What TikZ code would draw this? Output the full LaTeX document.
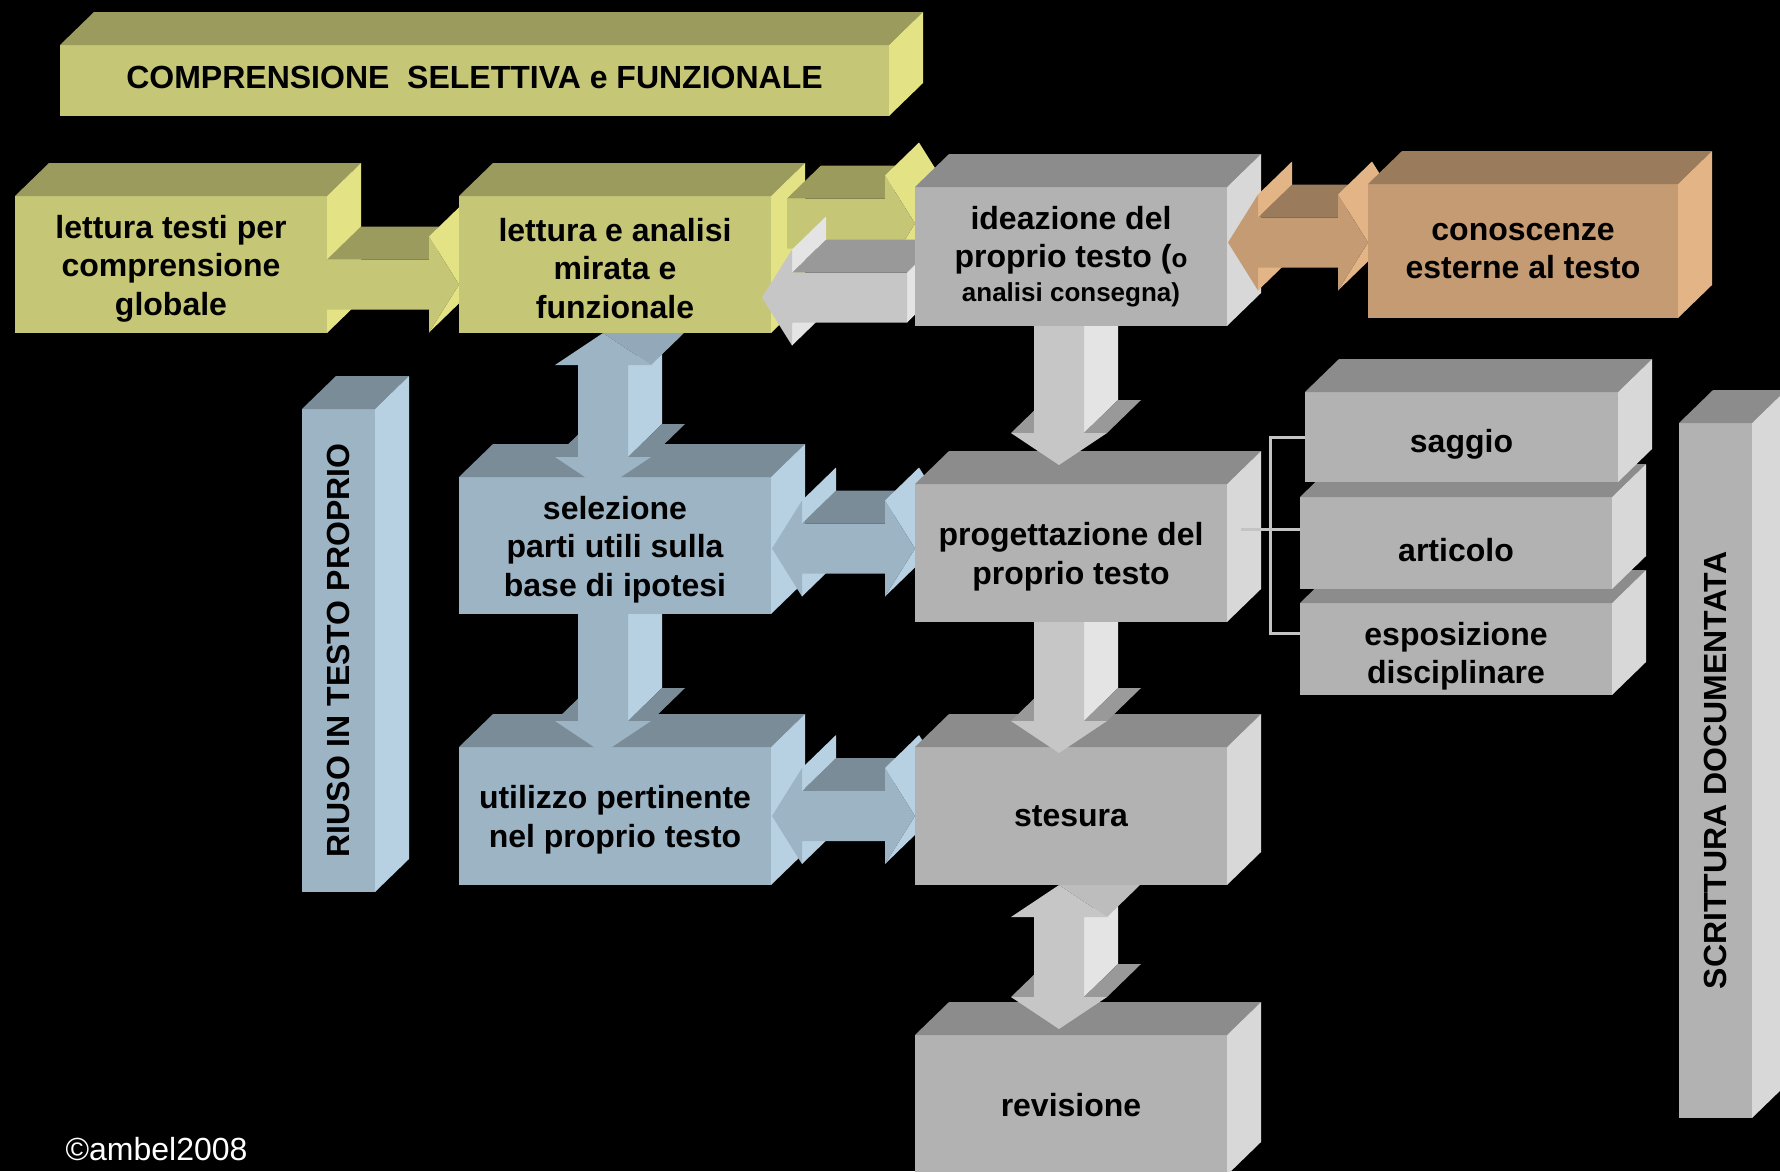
\documentclass[tikz,border=0pt]{standalone}
\usepackage{fontspec}
\setmainfont{Liberation Sans}
\usetikzlibrary{calc}

\definecolor{yelfront}{HTML}{C6C677}
\definecolor{yeltop}{HTML}{9B9B5D}
\definecolor{yelside}{HTML}{E3E385}
\definecolor{yelmid}{HTML}{B4B46B}
\definecolor{grayfront}{HTML}{B2B2B2}
\definecolor{graytop}{HTML}{8C8C8C}
\definecolor{grayside}{HTML}{D8D8D8}
\definecolor{graymid}{HTML}{A5A5A5}
\definecolor{lgrayfront}{HTML}{C6C6C6}
\definecolor{lgraytop}{HTML}{999999}
\definecolor{lgrayside}{HTML}{E4E4E4}
\definecolor{lgraymid}{HTML}{BDBDBD}
\definecolor{bluefront}{HTML}{9DB4C5}
\definecolor{bluetop}{HTML}{7B8C99}
\definecolor{blueside}{HTML}{B7D1E3}
\definecolor{bluemid}{HTML}{93A9B9}
\definecolor{orafront}{HTML}{C49B73}
\definecolor{oratop}{HTML}{9A7B5C}
\definecolor{oraside}{HTML}{E3B586}
\definecolor{oramid}{HTML}{B58F6B}
\definecolor{brack}{HTML}{C4C4C4}

\pgfdeclarelayer{shade}
\pgfsetlayers{shade,main}

\newcommand{\boxfont}{\bfseries\fontsize{32}{38.6}\selectfont}
\newcommand{\smallfont}{\fontsize{26}{30}\selectfont}
\newcommand{\drop}{\rule{0pt}{31pt}}

% depth of the blocks and size of the block arrows
\def\depx{34pt}
\def\depy{33pt}
\def\shaft{25pt}
\def\headw{48pt}
\def\headl{30pt}
\def\headv{32pt}

% front, top and right face of a box
\newcommand{\boxfaces}[2]{%
  \fill[#2front] (#1.south west) rectangle (#1.north east);
  \fill[#2top] (#1.north west) -- ($(#1.north west)+(\depx,\depy)$) -- ($(#1.north east)+(\depx,\depy)$) -- (#1.north east) -- cycle;
  \fill[#2side] (#1.north east) -- ($(#1.north east)+(\depx,\depy)$) -- ($(#1.south east)+(\depx,\depy)$) -- (#1.south east) -- cycle;}

% block arrow to the right: #1 start, #2 tip
\newcommand{\blockright}[3]{%
  \fill[#3top] ($(#1)+(0pt,\shaft)$) -- ($(#2)+(-\headl,\shaft)$) -- ($(#2)+(-\headl+\depx,\shaft+\depy)$) -- ($(#1)+(\depx,\shaft+\depy)$) -- cycle;
  \fill[#3side] ($(#2)+(-\headl,\headw)$) -- (#2) -- ($(#2)+(\depx,\depy)$) -- ($(#2)+(-\headl+\depx,\headw+\depy)$) -- cycle;
  \fill[#3side] (#2) -- ($(#2)+(-\headl,-\headw)$) -- ($(#2)+(-\headl+\depx,-\headw+\depy)$) -- ($(#2)+(\depx,\depy)$) -- cycle;
  \fill[#3front] ($(#1)+(0pt,\shaft)$) -- ($(#2)+(-\headl,\shaft)$) -- ($(#2)+(-\headl,\headw)$) -- (#2) -- ($(#2)+(-\headl,-\headw)$) -- ($(#2)+(-\headl,-\shaft)$) -- ($(#1)+(0pt,-\shaft)$) -- cycle;}

% block arrow to the left: #1 start, #2 tip
\newcommand{\blockleft}[3]{%
  \fill[#3top] ($(#2)+(\headl,\shaft)$) -- ($(#1)+(0pt,\shaft)$) -- ($(#1)+(\depx,\shaft+\depy)$) -- ($(#2)+(\headl+\depx,\shaft+\depy)$) -- cycle;
  \fill[#3side] ($(#1)+(0pt,-\shaft)$) -- ($(#1)+(0pt,\shaft)$) -- ($(#1)+(\depx,\shaft+\depy)$) -- ($(#1)+(\depx,-\shaft+\depy)$) -- cycle;
  \fill[#3side] ($(#2)+(\headl,\shaft)$) -- ($(#2)+(\headl,\headw)$) -- ($(#2)+(\headl+\depx,\headw+\depy)$) -- ($(#2)+(\headl+\depx,\shaft+\depy)$) -- cycle;
  \fill[#3side] ($(#2)+(\headl,-\headw)$) -- ($(#2)+(\headl,-\shaft)$) -- ($(#2)+(\headl+\depx,-\shaft+\depy)$) -- ($(#2)+(\headl+\depx,-\headw+\depy)$) -- cycle;
  \fill[#3front] ($(#1)+(0pt,\shaft)$) -- ($(#2)+(\headl,\shaft)$) -- ($(#2)+(\headl,\headw)$) -- (#2) -- ($(#2)+(\headl,-\headw)$) -- ($(#2)+(\headl,-\shaft)$) -- ($(#1)+(0pt,-\shaft)$) -- cycle;}

% block arrow with two heads: #1 left tip, #2 right tip
\newcommand{\blockboth}[3]{%
  \fill[#3top] ($(#1)+(\headl,\shaft)$) -- ($(#2)+(-\headl,\shaft)$) -- ($(#2)+(-\headl+\depx,\shaft+\depy)$) -- ($(#1)+(\headl+\depx,\shaft+\depy)$) -- cycle;
  \fill[#3side] ($(#1)+(\headl,\shaft)$) -- ($(#1)+(\headl,\headw)$) -- ($(#1)+(\headl+\depx,\headw+\depy)$) -- ($(#1)+(\headl+\depx,\shaft+\depy)$) -- cycle;
  \fill[#3side] ($(#1)+(\headl,-\headw)$) -- ($(#1)+(\headl,-\shaft)$) -- ($(#1)+(\headl+\depx,-\shaft+\depy)$) -- ($(#1)+(\headl+\depx,-\headw+\depy)$) -- cycle;
  \fill[#3side] ($(#2)+(-\headl,\headw)$) -- (#2) -- ($(#2)+(\depx,\depy)$) -- ($(#2)+(-\headl+\depx,\headw+\depy)$) -- cycle;
  \fill[#3side] (#2) -- ($(#2)+(-\headl,-\headw)$) -- ($(#2)+(-\headl+\depx,-\headw+\depy)$) -- ($(#2)+(\depx,\depy)$) -- cycle;
  \fill[#3front] (#1) -- ($(#1)+(\headl,\headw)$) -- ($(#1)+(\headl,\shaft)$) -- ($(#2)+(-\headl,\shaft)$) -- ($(#2)+(-\headl,\headw)$) -- (#2) -- ($(#2)+(-\headl,-\headw)$) -- ($(#2)+(-\headl,-\shaft)$) -- ($(#1)+(\headl,-\shaft)$) -- ($(#1)+(\headl,-\headw)$) -- cycle;}

% block arrow down: #1 start, #2 tip
\newcommand{\blockdown}[3]{%
  \fill[#3top] ($(#2)+(-\headw,\headv)$) -- ($(#2)+(-\shaft,\headv)$) -- ($(#2)+(-\shaft+\depx,\headv+\depy)$) -- ($(#2)+(-\headw+\depx,\headv+\depy)$) -- cycle;
  \fill[#3side] ($(#1)+(\shaft,0pt)$) -- ($(#2)+(\shaft,\headv)$) -- ($(#2)+(\shaft+\depx,\headv+\depy)$) -- ($(#1)+(\shaft+\depx,\depy)$) -- cycle;
  \fill[#3top] ($(#2)+(\shaft,\headv)$) -- ($(#2)+(\headw,\headv)$) -- ($(#2)+(\headw+\depx,\headv+\depy)$) -- ($(#2)+(\shaft+\depx,\headv+\depy)$) -- cycle;
  \fill[#3front] ($(#1)+(-\shaft,0pt)$) -- ($(#1)+(\shaft,0pt)$) -- ($(#2)+(\shaft,\headv)$) -- ($(#2)+(\headw,\headv)$) -- (#2) -- ($(#2)+(-\headw,\headv)$) -- ($(#2)+(-\shaft,\headv)$) -- cycle;}

% block arrow up and down: #1 upper tip, #2 lower tip
\newcommand{\blockupdown}[3]{%
  \fill[#3side] ($(#1)+(\shaft,-\headv)$) -- ($(#2)+(\shaft,\headv)$) -- ($(#2)+(\shaft+\depx,\headv+\depy)$) -- ($(#1)+(\shaft+\depx,-\headv+\depy)$) -- cycle;
  \fill[#3mid] (#1) -- ($(#1)+(\headw,-\headv)$) -- ($(#1)+(\headw+\depx,-\headv+\depy)$) -- ($(#1)+(\depx,\depy)$) -- cycle;
  \fill[#3top] ($(#2)+(-\headw,\headv)$) -- ($(#2)+(-\shaft,\headv)$) -- ($(#2)+(-\shaft+\depx,\headv+\depy)$) -- ($(#2)+(-\headw+\depx,\headv+\depy)$) -- cycle;
  \fill[#3top] ($(#2)+(\shaft,\headv)$) -- ($(#2)+(\headw,\headv)$) -- ($(#2)+(\headw+\depx,\headv+\depy)$) -- ($(#2)+(\shaft+\depx,\headv+\depy)$) -- cycle;
  \fill[#3front] (#1) -- ($(#1)+(\headw,-\headv)$) -- ($(#1)+(\shaft,-\headv)$) -- ($(#2)+(\shaft,\headv)$) -- ($(#2)+(\headw,\headv)$) -- (#2) -- ($(#2)+(-\headw,\headv)$) -- ($(#2)+(-\shaft,\headv)$) -- ($(#1)+(-\shaft,-\headv)$) -- ($(#1)+(-\headw,-\headv)$) -- cycle;}

\begin{document}
\begin{tikzpicture}[x=1pt, y=-1pt,
	box/.style={rectangle, inner sep=0pt, outer sep=0pt, align=center, font=\boxfont},
	lower/.style={execute at begin node={\rule{0pt}{38pt}}},
	up/.style={execute at end node={\rule[-7pt]{0pt}{7pt}}},
	bracket/.style={draw=brack, line width=3pt}]
	\useasboundingbox (0,0) rectangle (1780,1171);

	% Boxes
	\node[box, up, minimum width=829, minimum height=71] (titolo) at (474.5,80.5) {COMPRENSIONE\ \ SELETTIVA e FUNZIONALE};
	\node[box, minimum width=312, minimum height=137] (lettura1) at (171,264.5) {\drop lettura testi per\\comprensione\\globale};
	\node[box, minimum width=312, minimum height=137] (lettura2) at (615,264.5) {\drop lettura e analisi\\mirata e\\funzionale};
	\node[box, minimum width=312, minimum height=139] (ideazione) at (1071,256.5) {ideazione del\\proprio testo ({\smallfont o}\\[-5pt]{\smallfont analisi consegna)}};
	\node[box, minimum width=310, minimum height=134] (conoscenze) at (1523,251) {conoscenze\\esterne al testo};
	\node[box, minimum width=312, minimum height=137] (selezione) at (615,545.5) {\drop selezione\\parti utili sulla\\base di ipotesi};
	\node[box, minimum width=312, minimum height=138] (progettazione) at (1071,553) {\drop progettazione del\\proprio testo};
	\node[box, minimum width=312, minimum height=138] (utilizzo) at (615,816) {\drop utilizzo pertinente\\nel proprio testo};
	\node[box, minimum width=312, minimum height=138] (stesura) at (1071,816) {stesura};
	\node[box, minimum width=312, minimum height=140] (revisione) at (1071,1105) {revisione};
	\node[box, lower, minimum width=313, minimum height=90] (saggio) at (1461.5,437) {saggio};
	\node[box, lower, minimum width=312, minimum height=92] (articolo) at (1456,543) {articolo};
	\node[box, minimum width=312, minimum height=92] (esposizione) at (1456,649) {\rule{0pt}{38pt}esposizione\\disciplinare};
	\node[box, minimum width=73, minimum height=483] (riuso) at (338.5,650.5) {\rotatebox{90}{RIUSO IN TESTO PROPRIO}};
	\node[box, minimum width=73, minimum height=695] (scrittura) at (1715.5,770.5) {\rotatebox{90}{SCRITTURA DOCUMENTATA}};
	\node[anchor=west, text=white, font=\fontsize{32}{38}\selectfont] (firma) at (62,1149) {©ambel2008};

	% Ends of the block arrows
	\coordinate (a1s) at ($(lettura1.east)+(0,20)$);
	\coordinate (a1t) at (a1s -| lettura2.west);
	\coordinate (a2s) at ($(lettura2.east)+(16,-41)$);
	\coordinate (a2t) at (a2s -| ideazione.west);
	\coordinate (a3s) at ($(ideazione.west)+(-8,41)$);
	\coordinate (a3t) at ($(a3s -| lettura2.east)+(-9,0)$);
	\coordinate (a4l) at ($(ideazione.east)+(1,-14)$);
	\coordinate (a4r) at (a4l -| conoscenze.west);
	\coordinate (a5u) at ($(lettura2.south)+(-12,0)$);
	\coordinate (a5d) at ($(a5u |- selezione.north)+(0,12)$);
	\coordinate (a6s) at ($(selezione.south)+(-12,0)$);
	\coordinate (a6t) at ($(a6s |- utilizzo.north)+(0,6)$);
	\coordinate (a7l) at ($(selezione.east)+(1,3)$);
	\coordinate (a7r) at (a7l -| progettazione.west);
	\coordinate (a8l) at ($(utilizzo.east)+(1,0)$);
	\coordinate (a8r) at (a8l -| stesura.west);
	\coordinate (a9s) at ($(ideazione.south)+(-12,0)$);
	\coordinate (a9t) at ($(a9s |- progettazione.north)+(0,-19)$);
	\coordinate (a10s) at ($(progettazione.south)+(-12,0)$);
	\coordinate (a10t) at ($(a10s |- stesura.north)+(0,6)$);
	\coordinate (a11u) at ($(stesura.south)+(-12,0)$);
	\coordinate (a11d) at ($(a11u |- revisione.north)+(0,-6)$);

	% Faces, back to front
	\begin{pgfonlayer}{shade}
		\fill[black] (0,0) rectangle (1780,1171);
		\boxfaces{titolo}{yel}
		\boxfaces{riuso}{blue}
		\boxfaces{scrittura}{gray}
		\boxfaces{esposizione}{gray}
		\boxfaces{articolo}{gray}
		\boxfaces{saggio}{gray}
		\boxfaces{revisione}{gray}
		\blockupdown{a11u}{a11d}{lgray}
		\boxfaces{utilizzo}{blue}
		\blockboth{a8l}{a8r}{blue}
		\boxfaces{stesura}{gray}
		\blockdown{a10s}{a10t}{lgray}
		\blockdown{a6s}{a6t}{blue}
		\boxfaces{selezione}{blue}
		\blockboth{a7l}{a7r}{blue}
		\boxfaces{progettazione}{gray}
		\blockdown{a9s}{a9t}{lgray}
		\blockupdown{a5u}{a5d}{blue}
		\boxfaces{lettura1}{yel}
		\blockright{a1s}{a1t}{yel}
		\boxfaces{lettura2}{yel}
		\blockright{a2s}{a2t}{yel}
		\blockleft{a3s}{a3t}{lgray}
		\boxfaces{ideazione}{gray}
		\blockboth{a4l}{a4r}{ora}
		\boxfaces{conoscenze}{ora}
	\end{pgfonlayer}

	% Bracket to the kinds of text
	\coordinate (br) at ($(progettazione.east)+(14,-24)$);
	\draw[bracket] (br) -- (br -| articolo.west);
	\draw[bracket] (saggio.west) -- ++(-35,0) |- ($(esposizione.west)+(0,-16)$);
\end{tikzpicture}
\end{document}
